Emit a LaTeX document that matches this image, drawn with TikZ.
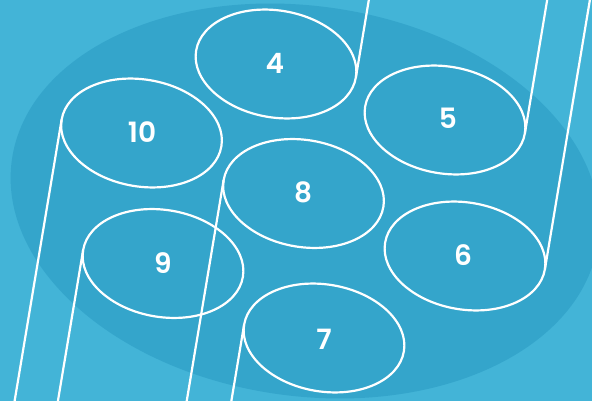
\documentclass[tikz,border=0pt]{standalone}
\usepackage{fontspec}
\newfontfamily\numfont{Poppins SemiBold}
\usetikzlibrary{shapes.geometric}
\definecolor{bglight}{RGB}{67,180,215}
\definecolor{bgdark}{RGB}{52,165,203}
\begin{document}
\begin{tikzpicture}[x=1pt,y=-1pt,
  cyl/.style={ellipse, draw=white, line width=2.2pt, minimum width=162pt,
    minimum height=107pt, inner sep=0pt, outer sep=0pt, rotate=-9.5},
  num/.style={text=white, font=\numfont\fontsize{28}{28}\selectfont, inner sep=0pt},
  side/.style={draw=white, line width=2.2pt}]
\fill[bglight] (0,0) rectangle (592,401);
\useasboundingbox (0,0) rectangle (592,401);
\clip (0,0) rectangle (592,401);
\fill[bgdark, rotate around={-8:(305,201)}] (305,201) ellipse [x radius=296, y radius=195];
% ellipses
\node[cyl] (e4) at (276,64) {};
\node[cyl] (e5) at (445,120) {};
\node[cyl] (e6) at (465,256) {};
\node[cyl] (e7) at (324,338) {};
\node[cyl] (e8) at (303.5,193.5) {};
\node[cyl] (e9) at (163,263.5) {};
\node[cyl] (e10) at (141.5,133) {};
% side lines
\draw[side] (e4.east) -- ++(70,-419);
\draw[side] (e5.east) -- ++(70,-419);
\draw[side] (e6.east) -- ++(70,-419);
\draw[side] (e10.west) -- ++(-70,419);
\draw[side] (e9.west) -- ++(-70,419);
\draw[side] (e8.west) -- ++(-70,419);
\draw[side] (e7.west) -- ++(-70,419);
% labels
\node[num] (n4) at (275,63) {4};
\node[num] (n5) at (448,118) {5};
\node[num] (n6) at (463,255) {6};
\node[num] (n7) at (324,339) {7};
\node[num] (n8) at (303,192) {8};
\node[num] (n9) at (163,263) {9};
\node[num] (n10) at (142,132) {10};
\end{tikzpicture}
\end{document}
